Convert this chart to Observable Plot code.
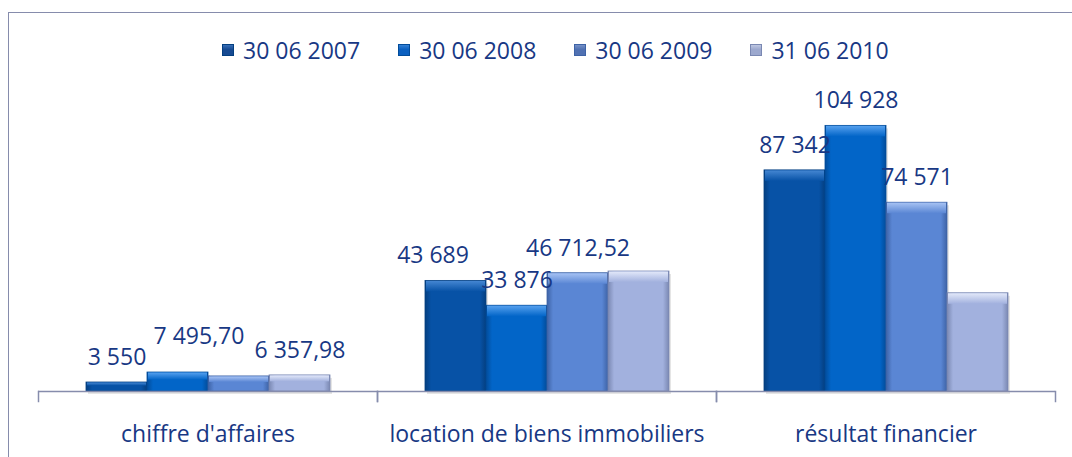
<!DOCTYPE html>
<html><head><meta charset="utf-8">
<script src="https://cdn.jsdelivr.net/npm/d3@7"></script>
<script src="https://cdn.jsdelivr.net/npm/@observablehq/plot@0.6"></script>
<style>
html,body{margin:0;padding:0;background:#fff;}
body{width:1072px;height:457px;overflow:hidden;position:relative;font-family:"Open Sans",sans-serif;}
#border{position:absolute;left:8px;top:12px;width:1100px;height:500px;border-left:1.5px solid #868CAC;border-top:1.5px solid #868CAC;}
#legend{position:absolute;left:222px;top:36px;display:flex;gap:38px;align-items:center;color:#183884;font-size:23px;line-height:28px;}
.item{display:flex;align-items:center;gap:9px;}
.sw{width:12px;height:12px;box-sizing:border-box;}
#chart{position:absolute;left:0;top:80px;}
</style></head>
<body>
<div id="border"></div>
<div id="legend"></div>
<div id="chart"></div>
<script>
// ---- data ----
const categories = ["chiffre d'affaires", "location de biens immobiliers", "résultat financier"];
const series = ["30 06 2007", "30 06 2008", "30 06 2009", "31 06 2010"];
const values2007 = [3550, 43689, 87342];
const values2008 = [7495.70, 33876, 104928];
const values2009 = [5950, 46712.52, 74571];
const values2010 = [6357.98, 47400, 38800];
const labelShown2007 = [true, true, true];
const labelShown2008 = [true, true, true];
const labelShown2009 = [false, true, true];
const labelShown2010 = [true, false, false];

// ---- styles ----
const baseColors = ["#0752A6", "#0265C8", "#5A86D4", "#A2B1DE"];
const edgeColors = ["#043F80", "#024C9A", "#3E63A6", "#7A88B2"];
const topColors  = ["#4486D2", "#55A0EE", "#A6C2F3", "#E2E8F9"];
const swatchColors = ["#174A92", "#0B60C0", "#5071B2", "#9CA8CE"];
const swatchLight = ["#3F78C0", "#3D88DA", "#7E98CC", "#C6CEE6"];
const textColor = "#183884";
const axisColor = "#868CAC";

const allValues = [values2007, values2008, values2009, values2010];
const allShown = [labelShown2007, labelShown2008, labelShown2009, labelShown2010];

const fr = d3.formatLocale({decimal: ",", thousands: " ", grouping: [3], currency: ["", ""]});
const fmt = v => Number.isInteger(v) ? fr.format(",d")(v) : fr.format(",.2f")(v);

const data = [];
series.forEach((s, j) => categories.forEach((c, i) => data.push({
  cat: c, series: s, idx: j, value: allValues[j][i], show: allShown[j][i], label: fmt(allValues[j][i])
})));

// legend
const legend = d3.select("#legend");
series.forEach((s, j) => {
  const it = legend.append("div").attr("class", "item");
  it.append("div").attr("class", "sw")
    .style("background", `linear-gradient(to bottom, ${swatchLight[j]} 0%, ${swatchColors[j]} 45%, ${swatchColors[j]} 100%)`)
    .style("box-shadow", `inset 0 0 0 1px ${edgeColors[j]}`);
  it.append("span").text(s);
});

const W = 1072, H = 377, mB = 56, insetB = 10;
const plotPx = H - mB - insetB; // pixels from baseline to top
const yMax = 122850;
const unit = yMax / plotPx;
const bevel = d => Math.min(d.value * 0.4, 11 * unit);

const special = {
  "location de biens immobiliers|30 06 2007": {dx: -23, dy: -25},
  "chiffre d'affaires|30 06 2008": {dx: 21, dy: -36}
};
const key = d => d.cat + "|" + d.series;
const normalLabels = data.filter(d => d.show && !special[key(d)]);

const labelMarks = [
  Plot.text(normalLabels, {fx: "cat", x: "series", y: "value", text: "label", dy: -25, fill: textColor, fontSize: 23})
];
for (const k of Object.keys(special)) {
  labelMarks.push(Plot.text(data.filter(d => key(d) === k), {
    fx: "cat", x: "series", y: "value", text: "label", dx: special[k].dx, dy: special[k].dy, fill: textColor, fontSize: 23
  }));
}

const chart = Plot.plot({
  width: W, height: H,
  marginLeft: 38, marginRight: 17, marginTop: 0, marginBottom: mB,
  style: {fontFamily: "Open Sans", fontSize: "23px", color: textColor, background: "transparent", overflow: "visible"},
  fx: {domain: categories, padding: 0, axis: "bottom", label: null, tickSize: 0, tickPadding: 24},
  x: {domain: series, paddingInner: 0, paddingOuter: 0.734, axis: null},
  y: {domain: [0, yMax], axis: null, insetBottom: insetB},
  color: {type: "identity"},
  marks: [
    Plot.barY(data, {fx: "cat", x: "series", y: "value", fill: "#000", fillOpacity: 0.10, dx: 2, dy: 3}),
    Plot.barY(data, {fx: "cat", x: "series", y: "value", fill: d => `url(#body${d.idx})`, stroke: d => edgeColors[d.idx], strokeWidth: 0.8}),
    Plot.barY(data, {fx: "cat", x: "series", y1: "value", y2: d => d.value - bevel(d), fill: d => `url(#top${d.idx})`, insetLeft: 1, insetRight: 1, insetTop: 0.5}),
    Plot.ruleY([0], {stroke: axisColor, strokeWidth: 1.5}),
    Plot.frame({anchor: "left", insetTop: plotPx, stroke: axisColor, strokeWidth: 1.5}),
    Plot.frame({anchor: "right", insetTop: plotPx, stroke: axisColor, strokeWidth: 1.5}),
    ...labelMarks
  ]
});

const svg = d3.select(chart.tagName.toLowerCase() === "svg" ? chart : chart.querySelector("svg"));
const defs = svg.insert("defs", ":first-child");
baseColors.forEach((c, j) => {
  const g = defs.append("linearGradient").attr("id", `body${j}`).attr("x1", 0).attr("x2", 1).attr("y1", 0).attr("y2", 0);
  g.append("stop").attr("offset", 0).attr("stop-color", edgeColors[j]);
  g.append("stop").attr("offset", 0.1).attr("stop-color", c);
  g.append("stop").attr("offset", 0.9).attr("stop-color", c);
  g.append("stop").attr("offset", 1).attr("stop-color", edgeColors[j]);
  const t = defs.append("linearGradient").attr("id", `top${j}`).attr("x1", 0).attr("x2", 0).attr("y1", 0).attr("y2", 1);
  t.append("stop").attr("offset", 0).attr("stop-color", topColors[j]);
  t.append("stop").attr("offset", 1).attr("stop-color", c);
});

document.getElementById("chart").appendChild(chart);
</script>
</body></html>
